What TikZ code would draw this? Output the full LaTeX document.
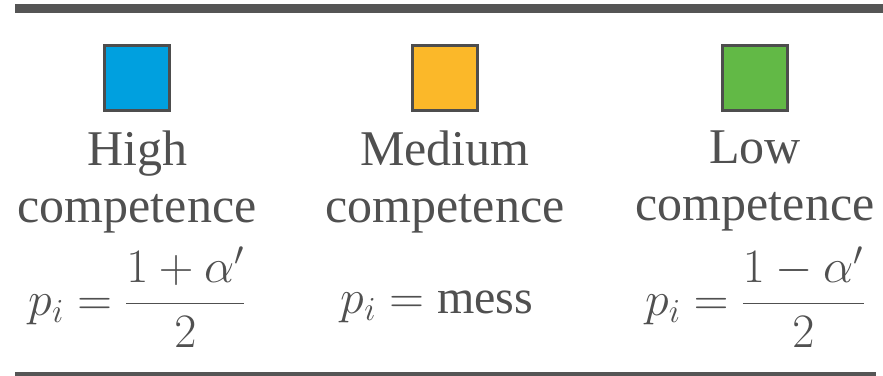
\RequirePackage{fix-cm}
\documentclass[tikz,border=0pt]{standalone}
\usepackage{amsmath}
\usepackage{fontspec}
\setmainfont{Liberation Serif}
\usetikzlibrary{positioning}
\definecolor{rulecolor}{RGB}{85, 85, 85}
\definecolor{textcolor}{RGB}{80, 80, 80}
\definecolor{highcolor}{RGB}{0, 160, 223}
\definecolor{mediumcolor}{RGB}{251, 184, 41}
\definecolor{lowcolor}{RGB}{98, 185, 70}
\definecolor{borderdark}{RGB}{77, 77, 77}
\tikzset{
swatch/.style={
  draw=borderdark,
  line width=3pt,
  minimum size=65pt,
  inner sep=0pt
},
levellabel/.style={
  align=center,
  font=\fontsize{50}{57}\selectfont,
  text=textcolor,
  inner sep=0pt
},
formula/.style={
  font=\fontsize{48}{57}\selectfont,
  text=textcolor,
  inner sep=0pt,
  anchor=base
},
tablerule/.style={
  draw=rulecolor
}
}
\begin{document}
\begin{tikzpicture}[x=1pt, y=1pt]
  \useasboundingbox (0,0) rectangle (883,-375);

  % Rules above and below
  \coordinate (topleft) at (15,-8.3);
  \coordinate (topright) at (883,-8.3);
  \coordinate (botleft) at (15,-373.5);
  \coordinate (botright) at (876,-373.5);
  \draw[tablerule, line width=8.5pt] (topleft) -- (topright);
  \draw[tablerule, line width=4pt] (botleft) -- (botright);

  % Colour swatches
  \node[swatch, fill=highcolor] (highbox) at (137,-78) {};
  \node[swatch, fill=mediumcolor] (medbox) at (445,-78) {};
  \node[swatch, fill=lowcolor] (lowbox) at (755,-78) {};

  % Labels
  \node[levellabel, below=19pt of highbox] (hightxt) {High\\competence};
  \node[levellabel, below=19pt of medbox] (medtxt) {Medium\\competence};
  \node[levellabel, below=19pt of lowbox] (lowtxt) {Low\\competence};

  % Probabilities
  \node[formula] (highform) at (137,-315) {$p_i = \dfrac{1+\alpha'}{2}$};
  \node[formula] (medform) at (437,-313) {$p_i = \text{mess}$};
  \node[formula] (lowform) at (755,-315) {$p_i = \dfrac{1-\alpha'}{2}$};
\end{tikzpicture}
\end{document}
